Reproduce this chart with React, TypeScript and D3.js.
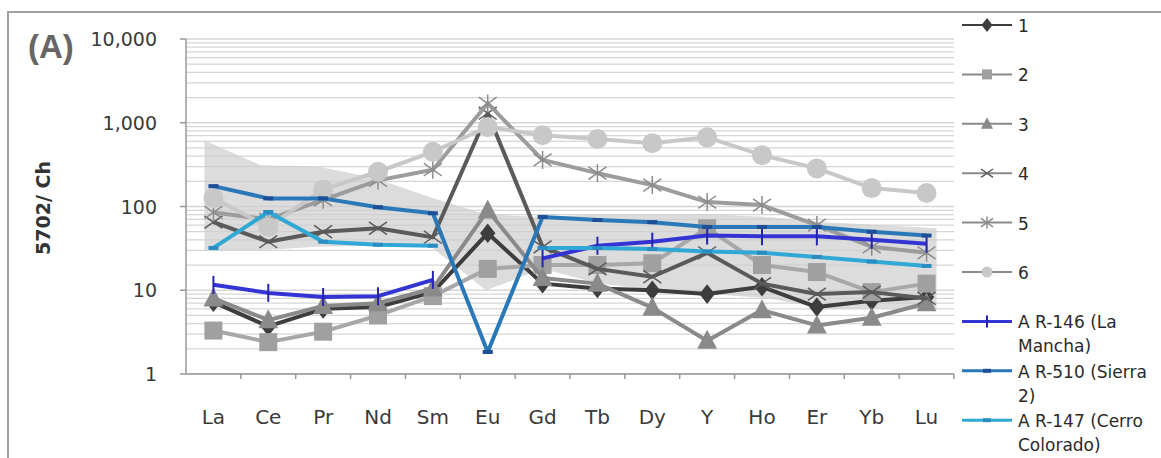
import React from "react";
import * as d3 from "d3";

const categories = ["La", "Ce", "Pr", "Nd", "Sm", "Eu", "Gd", "Tb", "Dy", "Y", "Ho", "Er", "Yb", "Lu"];
const yTickValues = [1, 10, 100, 1000, 10000];

const s1 = [7.2, 3.7, 6, 6.3, 9.5, 48, 12, 10.5, 10, 9, 11, 6.3, 7.5, 8.3];
const s2 = [3.3, 2.4, 3.2, 5, 8.5, 18, 20, 20, 21, 55, 20, 16.5, 9.5, 12];
const s3 = [8, 4.4, 6.5, 7, 10.5, 90, 14, 12, 6.2, 2.5, 5.8, 3.8, 4.7, 7];
const s4 = [65, 38, 50, 55, 43, 1300, 33, 18, 14.5, 28, 12, 9, 9.5, 8];
const s5 = [85, 70, 120, 205, 275, 1700, 360, 250, 180, 113, 104, 60, 33, 28];
const s6 = [126, 57, 160, 260, 450, 890, 710, 640, 570, 670, 410, 285, 166, 145];
const ar146 = [11.6, 9.3, 8.3, 8.5, 13.3, null, 24, 34, 38, 45, 44, 44, 40, 36];
const ar510 = [175, 125, 125, 98, 83, 1.83, 75, 69, 65, 57, 57, 57, 50, 45];
const ar147 = [32, 86, 38, 35, 34, null, 32, 32, 31, 29, 28, 25, 22, 19.5];
const bandUpper = [620, 310, 300, 220, 130, 80, 75, 80, 80, 80, 75, 65, 60, 55];
const bandLower = [30, 30, 33, 34, 34, 10, 18, 12, 10, 9, 8, 6, 6, 6];

const legendLabels = [["1"], ["2"], ["3"], ["4"], ["5"], ["6"], ["A R-146 (La", "Mancha)"], ["A R-510 (Sierra", "2)"], ["A R-147 (Cerro", "Colorado)"]];

type S = { data: (number | null)[]; color: string; marker: string; mcolor: string; width: number };
const series: S[] = [
  { data: s1, color: "#3d3d3d", marker: "diamond", mcolor: "#3d3d3d", width: 4 },
  { data: s2, color: "#a8a8a8", marker: "square", mcolor: "#a0a0a0", width: 4 },
  { data: s3, color: "#8a8a8a", marker: "triangle", mcolor: "#8a8a8a", width: 4 },
  { data: s4, color: "#5a5a5a", marker: "x", mcolor: "#5a5a5a", width: 4 },
  { data: s5, color: "#9c9c9c", marker: "star", mcolor: "#8c8c8c", width: 4 },
  { data: s6, color: "#c8c8c8", marker: "circle", mcolor: "#c8c8c8", width: 4 },
  { data: ar146, color: "#3434d4", marker: "plus", mcolor: "#2424b0", width: 4 },
  { data: ar510, color: "#2a78b8", marker: "dash", mcolor: "#1e4f96", width: 4 },
  { data: ar147, color: "#30a8d6", marker: "dash", mcolor: "#2a8cc0", width: 4 },
];

const FONT = "'DejaVu Sans', sans-serif";

function Marker({ type, x, y, color, size }: { type: string; x: number; y: number; color: string; size: number }) {
  const s = size;
  if (type === "diamond") {
    return <path d={`M${x},${y - s * 0.7}L${x + s * 0.55},${y}L${x},${y + s * 0.7}L${x - s * 0.55},${y}Z`} fill={color} />;
  }
  if (type === "square") {
    return <rect x={x - s / 2} y={y - s / 2} width={s} height={s} fill={color} />;
  }
  if (type === "triangle") {
    return <path d={`M${x},${y - s * 0.6}L${x + s * 0.55},${y + s * 0.45}L${x - s * 0.55},${y + s * 0.45}Z`} fill={color} />;
  }
  if (type === "circle") {
    return <circle cx={x} cy={y} r={s / 2} fill={color} />;
  }
  if (type === "x") {
    const h = s / 2;
    return <path d={`M${x - h},${y - h * 0.7}L${x + h},${y + h * 0.7}M${x - h},${y + h * 0.7}L${x + h},${y - h * 0.7}`} stroke={color} strokeWidth={1.5} fill="none" />;
  }
  if (type === "star") {
    const h = s / 2;
    return <path d={`M${x - h},${y - h * 0.7}L${x + h},${y + h * 0.7}M${x - h},${y + h * 0.7}L${x + h},${y - h * 0.7}M${x},${y - h}L${x},${y + h}`} stroke={color} strokeWidth={1.5} fill="none" />;
  }
  if (type === "plus") {
    const h = s / 2;
    return <path d={`M${x},${y - h}L${x},${y + h}`} stroke={color} strokeWidth={2} fill="none" />;
  }
  if (type === "dash") {
    return <rect x={x - s / 2} y={y - 2} width={s} height={4} fill={color} />;
  }
  return null;
}

const markerSize: Record<string, number> = { diamond: 14, square: 18, triangle: 18, x: 18, star: 18, circle: 20, plus: 18, dash: 10 };
const legendMarkerSize: Record<string, number> = { diamond: 10, square: 10, triangle: 11, x: 12, star: 12, circle: 11, plus: 12, dash: 8 };

export default function App() {
  const W = 1161, H = 458;
  const left = 186, right = 954, top = 39, bottom = 374;
  const x = d3.scaleBand<string>().domain(categories).range([left, right]);
  const xc = (c: string) => (x(c) as number) + x.bandwidth() / 2;
  const y = d3.scaleLog().domain([1, 10000]).range([bottom, top]);
  const xb = d3.scalePoint<string>().domain(categories).range([xc("La") - 9, xc("Lu") + 10]);

  const band = d3
    .area<number>()
    .x((_, i) => xb(categories[i]) as number)
    .y0((_, i) => y(bandLower[i]))
    .y1((_, i) => y(bandUpper[i]));

  const line = d3
    .line<number | null>()
    .defined((d) => d != null)
    .x((_, i) => xc(categories[i]))
    .y((d) => y(d as number));

  const grid = y.ticks();
  const fmt = d3.format(",");

  const legendX0 = 962, legendX1 = 1012, legendY0 = 25, legendStep = 49.4;

  return (
    <svg width={W} height={H} style={{ position: "absolute", left: 0, top: 0, background: "#fff" }} fontFamily={FONT}>
      <rect x={0} y={0} width={W} height={H} fill="#fff" />
      <path d={`M8,${H + 5}L8,12L${W + 5},12`} fill="none" stroke="#a0a0a0" strokeWidth={2} />

      <path d={band(bandUpper) as string} fill="#dcdcdc" />

      {grid.map((t) => (
        <line key={t} x1={left} x2={right} y1={y(t)} y2={y(t)} stroke="#cfcfcf" strokeWidth={1.3} opacity={0.85} />
      ))}

      <line x1={left} x2={left} y1={top} y2={bottom} stroke="#999" strokeWidth={1.5} />
      <line x1={left} x2={right} y1={bottom} y2={bottom} stroke="#999" strokeWidth={1.5} />
      {yTickValues.map((t) => (
        <g key={t}>
          <line x1={left - 6} x2={left} y1={y(t)} y2={y(t)} stroke="#999" strokeWidth={1.5} />
          <text x={157} y={y(t)} textAnchor="end" dominantBaseline="central" fontSize={19} fill="#3a3a3a">
            {fmt(t)}
          </text>
        </g>
      ))}
      {categories.map((c) => (
        <g key={c}>
          <line x1={(x(c) as number) + x.bandwidth()} x2={(x(c) as number) + x.bandwidth()} y1={bottom} y2={bottom + 5} stroke="#999" strokeWidth={1.5} />
          <text x={xc(c)} y={417} textAnchor="middle" dominantBaseline="central" fontSize={20} fill="#3a3a3a">
            {c}
          </text>
        </g>
      ))}

      {series.map((s, si) => (
        <g key={si}>
          <path d={line(s.data) as string} fill="none" stroke={s.color} strokeWidth={s.width} strokeLinejoin="round" />
          {s.data.map((v, i) =>
            v == null ? null : (
              <Marker key={i} type={s.marker} x={xc(categories[i])} y={y(v)} color={s.mcolor} size={markerSize[s.marker]} />
            )
          )}
        </g>
      ))}

      <text x={28} y={46} fontFamily="'Liberation Sans', sans-serif" fontWeight="bold" fontSize={33} fill="#666" dominantBaseline="central">
        (A)
      </text>
      <text transform={`translate(43,208) rotate(-90)`} textAnchor="middle" dominantBaseline="central" fontWeight="bold" fontSize={19} fill="#333">
        5702/ Ch
      </text>

      {series.map((s, i) => {
        const ly = legendY0 + i * legendStep;
        const lbl = legendLabels[i];
        return (
          <g key={"lg" + i}>
            <line x1={legendX0} x2={legendX1} y1={ly} y2={ly} stroke={i < 6 ? (i === 0 ? "#3d3d3d" : "#8a8a8a") : s.color} strokeWidth={i < 6 ? 2 : 3} />
            <Marker type={s.marker} x={(legendX0 + legendX1) / 2} y={ly} color={s.mcolor} size={legendMarkerSize[s.marker]} />
            {lbl.map((t, k) => (
              <text key={k} x={1018} y={ly + 1 + k * 24} dominantBaseline="central" fontSize={17} fill="#2a2a2a">
                {t}
              </text>
            ))}
          </g>
        );
      })}
    </svg>
  );
}
